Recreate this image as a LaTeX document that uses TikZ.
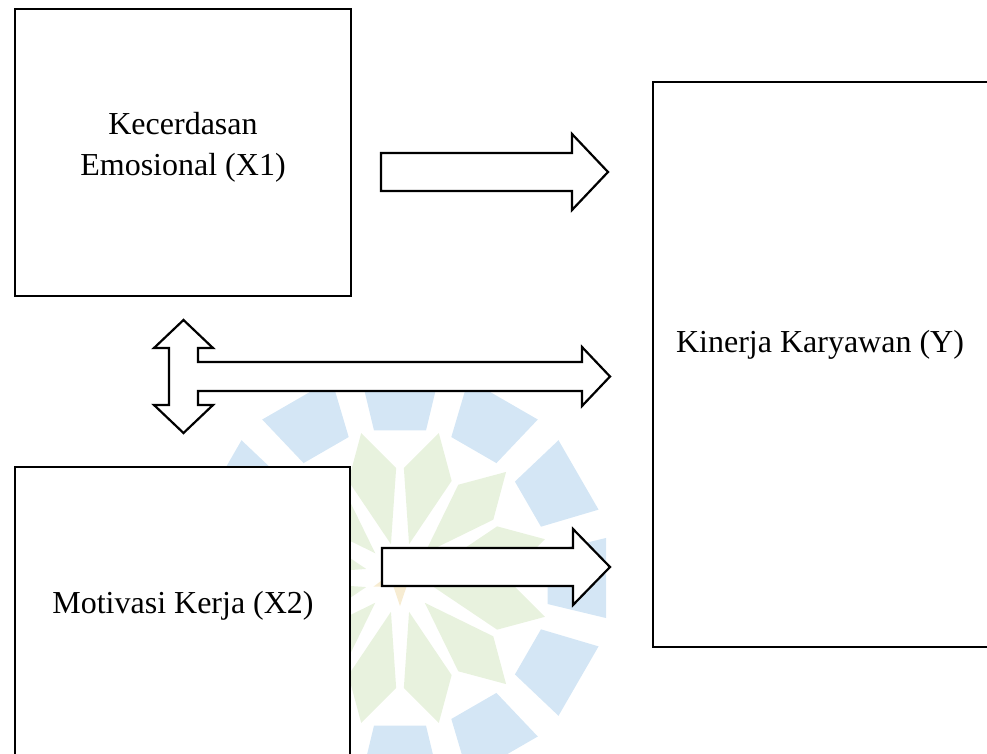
\documentclass[tikz,border=0pt]{standalone}
\usepackage{fontspec}
\setmainfont{Liberation Serif}
\definecolor{wmblue}{RGB}{212,230,245}
\definecolor{wmgreen}{RGB}{232,242,222}
\definecolor{wmstar}{RGB}{247,236,210}
\tikzset{
  boxshape/.style={draw=black, line width=2.2pt, fill=white},
  arrowshape/.style={draw=black, line width=2.2pt, fill=white, line join=miter},
  label/.style={font=\fontsize{32}{41}\selectfont, align=center, inner sep=0pt},
}
\begin{document}
\begin{tikzpicture}[x=1pt,y=-1pt]
\useasboundingbox (0,0) rectangle (987,753);
\clip (0,0) rectangle (987,753);
% faint watermark logo
\begin{scope}[shift={(400,578)}]
  \foreach \a in {0,30,...,330}{
    \fill[wmblue] ({\a-10}:150) -- ({\a-11}:210) -- ({\a+11}:210) -- ({\a+10}:150) -- cycle;
    \fill[wmgreen] ({\a+15}:35) -- ({\a+2}:110) -- ({\a+15}:150) -- ({\a+28}:110) -- cycle;
  }
  \fill[wmstar] (90:28) \foreach \k in {1,...,9}{ -- ({90+36*\k}:{mod(\k,2)==1 ? 11 : 28}) } -- cycle;
\end{scope}
% boxes
\draw[boxshape] (15,9) rectangle (351,296);
\node[label] (x1) at (183,147) {Kecerdasan\\Emosional (X1)};
\draw[boxshape] (15,467) rectangle (350,790);
\node[label, anchor=base] (x2) at (183,613) {Motivasi Kerja (X2)};
\draw[boxshape] (653,82) rectangle (1010,647);
\node[label, anchor=base] (y) at (820,352) {Kinerja Karyawan (Y)};
% arrow X1 -> Y
\draw[arrowshape] (381,153) -- (572,153) -- (572,134) -- (608,172) -- (572,210) -- (572,191) -- (381,191) -- cycle;
% arrow X2 -> Y
\draw[arrowshape] (382,548) -- (573,548) -- (573,529) -- (610,567) -- (573,605) -- (573,586) -- (382,586) -- cycle;
% double arrow X1 <-> X2 with branch to Y
\draw[arrowshape] (183.5,320) -- (213,348) -- (198,348) -- (198,362) -- (582,362) -- (582,347) -- (610,376.5)
  -- (582,406) -- (582,391) -- (198,391) -- (198,405) -- (213,405) -- (183.5,433) -- (154,405) -- (169,405)
  -- (169,348) -- (154,348) -- cycle;
\end{tikzpicture}
\end{document}
